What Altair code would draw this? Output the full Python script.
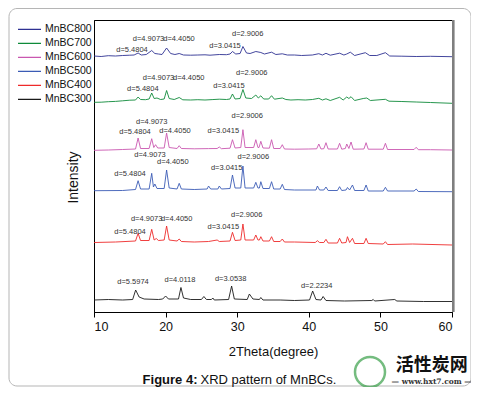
import altair as alt
import pandas as pd

series_names = ["MnBC800", "MnBC700", "MnBC600", "MnBC500", "MnBC400", "MnBC300"]
series_colors = ["#2e3192", "#0e8a3a", "#c957b0", "#3b5bb5", "#ee2a2a", "#1a1a1a"]

pts_800 = [(10,256),(11,255.5),(12,256.3),(13,256),(14,256.5),(15,256.8),(15.6,257),(16.16,259),(16.6,257),
           (17.3,257.5),(18.06,261.5),(18.5,258.5),(19,258),(19.5,257.5),(20.14,264),(20.7,258.5),(21.3,257.5),
           (21.9,258.5),(22.5,257),(23.5,256.8),(24.5,257),(25.5,257.2),(26.2,256.8),(27.5,257.5),(28.5,257.3),
           (29.0,258),(29.34,260.5),(29.8,258),(30.4,258.5),(30.8,265.5),(31.3,259),(31.8,258.5),(32.6,260.5),
           (33.3,259.5),(33.8,258),(34.8,259.8),(35.4,257.5),(36.3,258.2),(37,257),(38,257),(39,256.5),(40.5,257),
           (41.4,258.3),(41.9,257),(42.4,258.7),(43,256.8),(44.3,258.8),(44.9,257),(45.3,258),(45.8,259.8),
           (46.4,256.5),(47.9,259.3),(48.5,256.5),(49.5,256.5),(50.7,259.3),(51.3,256),(53,255.8),(55,255.5),
           (57,255.7),(60,255.3)]

pts_700 = [(10,209.7),(11,209.8),(12,210.3),(13,210.6),(14,211.2),(15,211.8),(15.8,212),(16.16,215),(16.5,212.5),
           (17.2,212.3),(17.7,213),(18.06,219),(18.4,213.5),(18.8,214),(19.3,212.5),(19.8,213),(20.14,221.5),
           (20.5,213.5),(21.2,212.5),(21.9,214.5),(22.4,212.2),(23.5,212),(24.5,212.3),(25.5,212),(26.5,212.4),
           (27.5,212.8),(28.5,212.5),(29.0,213),(29.34,218),(29.7,213),(30.4,213.5),(30.8,222.5),(31.2,214),
           (32.0,213.5),(32.6,217),(32.95,214),(33.3,216.2),(33.7,213),(34.4,213),(34.8,216.3),(35.2,212.8),
           (36.3,214),(36.8,212.5),(37.5,212),(38.5,212.3),(39.5,212),(40.5,212.5),(41.4,213.7),(41.9,212),
           (42.4,213.2),(43,211.5),(44.3,214.7),(44.8,212),(45.3,215),(45.6,213.5),(45.9,215.3),(46.4,211.5),
           (47.6,213.5),(48.1,214),(48.6,211.5),(50.7,212.7),(51.2,210.8),(53,210.5),(55,210),(57,209.5),(60,208.7)]

pts_600 = [(10,161.7),(12,162),(14,162.5),(15.8,163),(16.16,174),(16.5,163.5),(17.7,163.5),(18.06,173.3),
           (18.35,164.5),(18.6,167.3),(18.9,164),(19.8,164),(20.14,179),(20.5,164.5),(21.6,163.5),(21.9,166.3),
           (22.2,163.5),(24,163.2),(26,163.4),(27.2,163.5),(27.5,165),(27.8,163.3),(29,163.8),(29.34,172.3),
           (29.7,164),(30.5,164.5),(30.8,182.3),(31.1,164.5),(32.3,164.5),(32.6,172.3),(32.9,164.5),(33.05,164.5),
           (33.3,170.7),(33.6,164),(34.5,163.8),(34.8,172.3),(35.1,163.5),(36,163.5),(36.3,167.3),(36.6,163),
           (38,162.8),(40,163),(41.1,163.2),(41.4,168),(41.7,163),(42.1,163.3),(42.4,169.3),(42.7,163),(44,163),
           (44.3,168.7),(44.6,162.8),(45.1,163.5),(45.3,168),(45.6,163.5),(45.9,170),(46.2,162.8),(47.7,163),
           (48.0,169.3),(48.3,162.8),(50.4,162.8),(50.7,168.7),(51,162.5),(54.7,162.5),(55,164.7),(55.3,162.3),
           (57,162.3),(60,162)]

pts_500 = [(10,121.3),(14,121.5),(15.8,122.5),(16.16,131.3),(16.5,123),(17.7,123),(18.06,138.7),(18.3,125),
           (18.5,128),(18.8,123.5),(19.8,123.5),(20.14,142),(20.5,124),(21.6,123),(21.9,128.7),(22.2,123),
           (24,122.5),(25.8,123),(26,126),(26.3,123),(27.3,123),(27.5,126),(27.8,123),(29,123.5),(29.34,137),
           (29.7,124),(30.5,124),(30.8,146),(31.1,124),(32.3,124),(32.6,129.7),(32.9,124),(33.1,124),(33.3,130.3),
           (33.6,123.5),(34.5,123.5),(34.8,130.3),(35.1,123),(36,123),(36.3,127.7),(36.6,122.5),(38,122),(41,122),
           (41.2,126),(41.5,122),(42.1,122),(42.4,125),(42.7,121.5),(44,121.5),(44.3,125.3),(44.6,121.5),
           (45.2,122),(45.4,124.5),(45.7,122),(46.1,127),(46.4,121.5),(47.7,121.5),(48.0,127),(48.3,121),
           (50.4,121),(50.7,124.7),(51,121),(54.7,121),(55,123),(55.3,120.5),(60,120.3)]

pts_400 = [(10,69.5),(13,70),(15.8,71),(16.16,78.7),(16.5,71.5),(17.7,71.5),(18.06,82.7),(18.4,72),(18.7,73.5),
           (19,71.5),(19.8,72),(20.14,86),(20.5,72),(21.6,71),(21.9,73),(22.2,70.5),(24,70),(26,70.5),(27.2,72),
           (27.5,70.5),(29,71),(29.34,79.7),(29.7,71.5),(30.5,72),(30.8,88),(31.1,72),(32.3,72),(32.6,77),
           (32.9,72),(33.1,72),(33.3,75.3),(33.6,71),(34.5,71),(34.8,75.3),(35.1,70.5),(36,70.5),(36.3,73),
           (36.6,70),(38,70),(40.9,69.5),(41.2,71.3),(41.5,69.5),(42.1,69.5),(42.4,72.7),(42.7,69),(44,69),
           (44.3,73.7),(44.6,69),(45.2,69.5),(45.4,75.3),(45.7,69.5),(46.1,73.7),(46.4,68.5),(47.7,68.5),
           (48.0,73.7),(48.3,68.5),(50.4,68),(50.7,70.3),(51,67.5),(54.5,68),(60,67)]

pts_300 = [(10,12),(12,12.5),(14,12),(15.4,12.5),(15.82,22),(16.3,15),(17,13),(19,12.5),(19.6,13),(20,16),
           (20.4,13),(21.8,13),(22.14,24.5),(22.5,14),(23.5,12.5),(25,12.5),(25.35,15.5),(25.7,12.5),(26.4,12.5),
           (26.6,14),(26.8,12),(28.8,12.5),(29.22,26),(29.6,13),(31.4,12.5),(31.7,18),(32.2,13),(33.1,12.5),
           (33.3,14.5),(33.6,12),(36,12),(38,11.5),(40.1,12),(40.54,21),(41,12.5),(41.7,12),(42,15.5),(42.4,11.5),
           (45,11),(48.8,11.5),(49,12.5),(49.2,11),(52,12.5),(52.3,11),(56,10.5),(60,10.5)]

ann_text = ["d=4.9073", "d=4.4050", "d=5.4804", "d=2.9006", "d=3.0415",
            "d=4.9073", "d=4.4050", "d=5.4804", "d=2.9006", "d=3.0415",
            "d=4.9073", "d=4.4050", "d=5.4804", "d=2.9006", "d=3.0415",
            "d=4.9073", "d=4.4050", "d=5.4804", "d=2.9006", "d=3.0415",
            "d=4.9073", "d=4.4050", "d=5.4804", "d=2.9006", "d=3.0415",
            "d=5.5974", "d=4.0118", "d=3.0538", "d=2.2234"]
ann_x = [17.61, 21.87, 15.31, 31.47, 28.30,
         19.01, 23.24, 16.82, 32.03, 28.85,
         18.06, 21.31, 15.73, 31.40, 28.06,
         17.82, 21.01, 15.03, 32.25, 28.53,
         17.36, 21.55, 15.03, 31.33, 28.06,
         15.45, 22.01, 29.09, 41.10]
ann_y = [272.7, 272.7, 262, 277.7, 266.3,
         234.3, 234.3, 222.7, 239.3, 226,
         190, 181.3, 180, 195.7, 180.7,
         157, 149.7, 138, 154.7, 143.7,
         93, 93, 80.3, 97, 85.3,
         30, 32, 33, 26]

frames = []
for name, pts in zip(series_names, [pts_800, pts_700, pts_600, pts_500, pts_400, pts_300]):
    d = pd.DataFrame(pts, columns=["two_theta", "intensity"])
    d["sample"] = name
    frames.append(d)
df = pd.concat(frames, ignore_index=True)
ann = pd.DataFrame({"t": ann_text, "x": ann_x, "y": ann_y})
one = pd.DataFrame({"a": [0]})

FONT = "Liberation Sans"

xscale = alt.Scale(domain=[10, 60], nice=False)
yscale = alt.Scale(domain=[0, 292], nice=False)

lines = alt.Chart(df).mark_line(strokeWidth=0.9).encode(
    x=alt.X("two_theta:Q", scale=xscale, title="2Theta(degree)",
            axis=alt.Axis(values=[10, 15, 20, 25, 30, 35, 40, 45, 50, 55, 60],
                          labelExpr="datum.value % 10 === 0 ? datum.label : ''",
                          tickSize={"condition": {"test": "datum.value % 10 === 0", "value": 5}, "value": 3},
                          grid=False, labelFontSize=12.5, labelPadding=3,
                          titleFontSize=13, titleY=39, titleBaseline="middle")),
    y=alt.Y("intensity:Q", scale=yscale, title="Intensity",
            axis=alt.Axis(ticks=False, labels=False, grid=False, titleFontSize=14,
                          titleX=-21, titleY=157, titleAngle=270, titleBaseline="middle",
                          titleAlign="center")),
    color=alt.Color("sample:N", scale=alt.Scale(domain=series_names, range=series_colors),
                    legend=alt.Legend(title=None, orient="none", legendX=-77, legendY=3.5,
                                      symbolType="stroke", symbolSize=529, symbolStrokeWidth=1.1,
                                      labelFontSize=10.5, labelFont=FONT, labelColor="#111",
                                      labelOffset=3, rowPadding=2, clipHeight=11.7, padding=0)),
)

annotations = alt.Chart(ann).mark_text(fontSize=7.5, font=FONT, color="#333").encode(
    x=alt.X("x:Q", scale=xscale), y=alt.Y("y:Q", scale=yscale), text="t:N")

frame = alt.Chart(one).mark_rect(cornerRadius=8, fillOpacity=0, stroke="#b5b5b5", strokeWidth=1).encode(
    x=alt.value(-85), x2=alt.value(377), y=alt.value(-11.5), y2=alt.value(366))

right_border = alt.Chart(one).mark_rule(color="#7f7f7f", strokeWidth=2.6).encode(
    x=alt.value(359.3), y=alt.value(0), y2=alt.value(292))

cap_bold = alt.Chart(one).mark_text(align="right", fontWeight="bold", fontSize=13, font=FONT, color="#111").encode(
    x=alt.value(103.5), y=alt.value(360), text=alt.value("Figure 4:"))
cap_rest = alt.Chart(one).mark_text(align="left", fontSize=13, font=FONT, color="#111").encode(
    x=alt.value(106.5), y=alt.value(360), text=alt.value("XRD pattern of MnBCs."))

wm_logo = alt.Chart(one).mark_point(shape="circle", size=900, filled=False, stroke="#3aa04a", strokeWidth=2.5).encode(
    x=alt.value(276), y=alt.value(352))
wm_text = alt.Chart(one).mark_text(fontSize=18, fontWeight="bold", font="Noto Sans CJK SC", color="#111").encode(
    x=alt.value(337.7), y=alt.value(346), text=alt.value("活性炭网"))
wm_url = alt.Chart(one).mark_text(fontSize=7.5, fontWeight="bold", font="DejaVu Serif", color="#333").encode(
    x=alt.value(337.7), y=alt.value(361.5), text=alt.value("— www.hxt7.com —"))

chart = alt.layer(frame, lines, annotations, right_border, cap_bold, cap_rest, wm_logo, wm_text, wm_url).properties(
    width=358, height=292,
    autosize=alt.AutoSizeParams(type="none"),
    padding={"left": 86, "top": 12, "right": 19, "bottom": 75},
).configure_view(stroke="black", strokeWidth=1).configure_axis(
    domainColor="black", tickColor="black", labelColor="#111", titleColor="#111",
    labelFont=FONT, titleFont=FONT, titleFontWeight="normal",
)

chart.save("out.html", embed_options={"renderer": "svg", "actions": False})
